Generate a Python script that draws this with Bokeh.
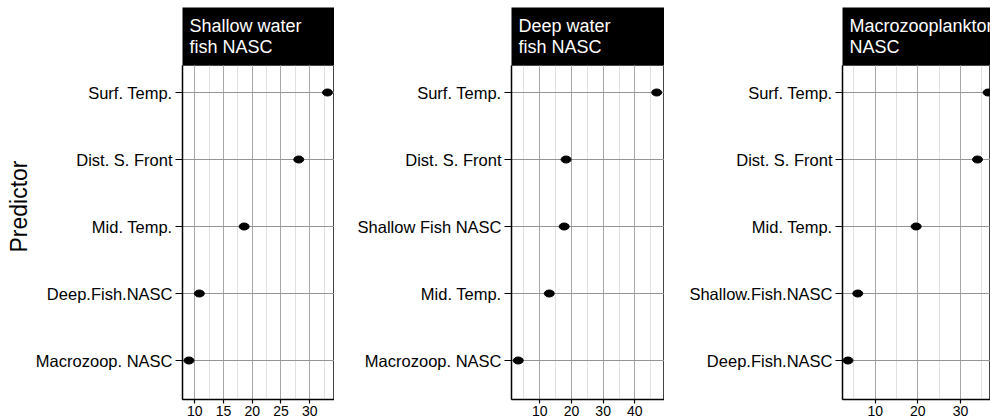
import math

from bokeh.plotting import figure
from bokeh.layouts import row, column
from bokeh.models import Label, FixedTicker, SingleIntervalTicker
from bokeh.core.properties import value
from bokeh.embed import file_html
from bokeh.resources import INLINE

# Predictor importance for each response, listed top to bottom
shallow_predictors = ["Surf. Temp.", "Dist. S. Front", "Mid. Temp.", "Deep.Fish.NASC", "Macrozoop. NASC"]
shallow_importance = [33.1, 28.1, 18.6, 10.8, 9.0]

deep_predictors = ["Surf. Temp.", "Dist. S. Front", "Shallow Fish NASC", "Mid. Temp.", "Macrozoop. NASC"]
deep_importance = [46.9, 18.3, 17.7, 13.0, 3.2]

macro_predictors = ["Surf. Temp.", "Dist. S. Front", "Mid. Temp.", "Shallow.Fish.NASC", "Deep.Fish.NASC"]
macro_importance = [36.5, 34.0, 19.6, 5.9, 3.6]

strip_titles = ["Shallow water\nfish NASC", "Deep water\nfish NASC", "Macrozooplankton\nNASC"]
y_title = "Predictor"

FONT = "Liberation Sans"
STRIP_H = 65
PANEL_H = 355
TOTAL_H = STRIP_H + PANEL_H
LABEL_W = 32


def make_panel(predictors, importance, title, left, frame_w, x_range, interval):
    n = len(predictors)
    ypos = [n - i for i in range(n)]

    # black facet strip with white two-line title
    strip = figure(width=left + frame_w, height=STRIP_H,
                   min_border_left=left, min_border_right=0,
                   min_border_top=7, min_border_bottom=0,
                   x_range=(0, 1), y_range=(0, 1),
                   x_axis_location=None, y_axis_location=None,
                   output_backend="svg", toolbar_location=None,
                   background_fill_color="black", border_fill_color="white",
                   outline_line_color=None)
    strip.grid.visible = False
    for k, line in enumerate(title.split("\n")):
        strip.add_layout(Label(x=7, y=40 - 21 * k, x_units="screen", y_units="screen",
                               text=line, text_color="white", text_font=FONT,
                               text_font_size="18px", text_baseline="alphabetic"))

    p = figure(width=left + frame_w, height=PANEL_H,
               min_border_left=left, min_border_right=0,
               min_border_top=0, min_border_bottom=21,
               x_range=x_range, y_range=(0.418, 5.403),
               output_backend="svg", toolbar_location=None,
               background_fill_color="white", border_fill_color="white")

    p.ellipse(x=importance, y=ypos, width=10, height=7,
              width_units="screen", height_units="screen",
              fill_color="black", line_color="black")

    p.xaxis.ticker = SingleIntervalTicker(interval=interval, num_minor_ticks=2)
    p.yaxis.ticker = FixedTicker(ticks=ypos)
    p.yaxis.major_label_overrides = {y: name for y, name in zip(ypos, predictors)}

    p.xgrid.grid_line_color = "#a8a8a8"
    p.xgrid.minor_grid_line_color = "#e0e0e0"
    p.ygrid.grid_line_color = "#959595"

    for ax in (p.xaxis[0], p.yaxis[0]):
        ax.axis_line_color = "black"
        ax.axis_line_width = 1.5
        ax.major_tick_line_color = "black"
        ax.major_tick_line_width = 1.2
        ax.major_tick_in = 0
        ax.minor_tick_line_color = None
        ax.major_label_text_color = "black"
        ax.major_label_text_font = FONT

    p.yaxis.major_tick_out = 7
    p.yaxis.major_label_standoff = 3
    p.yaxis.major_label_text_font_size = "16.5px"
    p.xaxis.major_tick_out = 4
    p.xaxis.major_label_standoff = 2
    p.xaxis.major_label_text_font_size = "14px"

    p.outline_line_color = "#444444"
    p.outline_line_width = 1

    return column(strip, p, spacing=0)


# narrow column carrying the shared y-axis title
ylab = figure(width=LABEL_W, height=TOTAL_H,
              min_border_left=0, min_border_right=0,
              min_border_top=0, min_border_bottom=0,
              x_range=(0, LABEL_W), y_range=(0, TOTAL_H),
              x_axis_location=None, y_axis_location=None,
              output_backend="svg", toolbar_location=None,
              outline_line_color=None)
ylab.grid.visible = False
ylab.text(x=[18.5], y=[TOTAL_H - 206], text=[y_title], angle=math.pi / 2,
          text_font=value(FONT), text_font_size="23px", text_color="black",
          text_align="center", text_baseline="middle")

col1 = make_panel(shallow_predictors, shallow_importance, strip_titles[0],
                  181 - LABEL_W, 153, (7.87, 34.32), 5)
col2 = make_panel(deep_predictors, deep_importance, strip_titles[1],
                  177, 153, (1.07, 49.36), 10)
col3 = make_panel(macro_predictors, macro_importance, strip_titles[2],
                  178, 148, (2.31, 37.06), 10)

layout = row(ylab, col1, col2, col3, spacing=0)

open("out.html", "w").write(file_html(layout, INLINE))
